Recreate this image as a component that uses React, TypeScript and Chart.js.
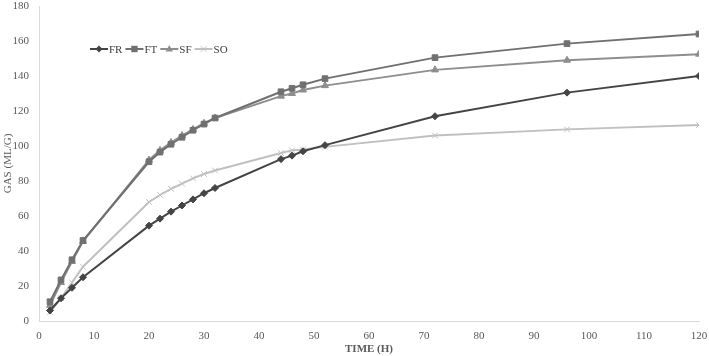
import React, { useEffect, useRef } from "react";
import { Chart, registerables } from "chart.js";

Chart.register(...registerables);

const hours = [2, 4, 6, 8, 20, 22, 24, 26, 28, 30, 32, 44, 46, 48, 52, 72, 96, 120];
const FR = [6, 13, 19, 25, 54.5, 58.5, 62.5, 66, 69.5, 73, 76, 92.5, 94.5, 97, 100.5, 117, 130.5, 140];
const FT = [11, 23.5, 35, 46, 91, 96.5, 101, 105, 109, 112.5, 116, 131, 133, 135, 138.5, 150.5, 158.5, 164];
const SF = [9, 22, 34, 45.5, 92, 97.5, 102, 106, 109.5, 113, 116, 128.5, 130, 132, 134.5, 143.5, 149, 152.5];
const SO = [5, 13, 22, 31, 68, 72, 75.5, 78.5, 81.5, 84, 86, 96, 97.5, 98, 99.5, 106, 109.5, 112];
const seriesNames = ["FR", "FT", "SF", "SO"];
const xTitle = "TIME (H)";
const yTitle = "GAS (ML/G)";

const FONT = "'Liberation Serif', 'Times New Roman', serif";

function drawMarker(ctx: any, style: string, r: number, x: number, y: number, color: string) {
  ctx.save();
  ctx.fillStyle = color;
  ctx.strokeStyle = color;
  ctx.lineWidth = 1;
  ctx.beginPath();
  if (style === "rectRot") {
    ctx.moveTo(x, y - r);
    ctx.lineTo(x + r, y);
    ctx.lineTo(x, y + r);
    ctx.lineTo(x - r, y);
    ctx.closePath();
    ctx.fill();
  } else if (style === "rect") {
    ctx.rect(x - r * 0.8, y - r * 0.8, r * 1.6, r * 1.6);
    ctx.fill();
  } else if (style === "triangle") {
    ctx.moveTo(x, y - r);
    ctx.lineTo(x + r * 0.9, y + r * 0.6);
    ctx.lineTo(x - r * 0.9, y + r * 0.6);
    ctx.closePath();
    ctx.fill();
  } else {
    const d = r * 0.7;
    ctx.moveTo(x - d, y - d);
    ctx.lineTo(x + d, y + d);
    ctx.moveTo(x + d, y - d);
    ctx.lineTo(x - d, y + d);
    ctx.stroke();
  }
  ctx.restore();
}

const legendPlugin = {
  id: "insideLegend",
  afterDraw(chart: any) {
    const ctx = chart.ctx;
    const y = 49;
    let x = 90;
    ctx.save();
    ctx.font = `11px ${FONT}`;
    ctx.textBaseline = "middle";
    chart.data.datasets.forEach((ds: any) => {
      ctx.strokeStyle = ds.borderColor;
      ctx.lineWidth = 2;
      ctx.beginPath();
      ctx.moveTo(x, y);
      ctx.lineTo(x + 18, y);
      ctx.stroke();
      drawMarker(ctx, ds.pointStyle, ds.pointRadius, x + 9, y, ds.borderColor);
      ctx.fillStyle = "#404040";
      ctx.fillText(ds.label, x + 19, y + 1);
      x += 19 + ctx.measureText(ds.label).width + 3;
    });
    ctx.restore();
  },
};

export default function App() {
  const ref = useRef<HTMLCanvasElement>(null);
  useEffect(() => {
    const mk = (label: string, data: number[], color: string, style: string, r: number) => ({
      label,
      data: hours.map((h, i) => ({ x: h, y: data[i] })),
      borderColor: color,
      backgroundColor: color,
      pointBackgroundColor: color,
      pointBorderColor: color,
      pointStyle: style,
      pointRadius: r,
      pointBorderWidth: 1,
      borderWidth: 2,
      tension: 0,
    });
    const chart = new Chart(ref.current!, {
      type: "line",
      data: {
        datasets: [
          mk(seriesNames[0], FR, "#444444", "rectRot", 3.5),
          mk(seriesNames[1], FT, "#707070", "rect", 4),
          mk(seriesNames[2], SF, "#8e8e8e", "triangle", 4),
          mk(seriesNames[3], SO, "#c0c0c0", "crossRot", 4),
        ],
      },
      options: {
        animation: false,
        responsive: false,
        maintainAspectRatio: false,
        layout: { padding: { top: 0, right: 10, left: 0, bottom: 0 } },
        plugins: { legend: { display: false }, tooltip: { enabled: false } },
        scales: {
          x: {
            type: "linear",
            min: 0,
            max: 120,
            ticks: { stepSize: 10, color: "#595959", font: { family: FONT, size: 11 }, padding: 9, maxRotation: 0 },
            grid: { display: false, drawTicks: false },
            border: { color: "#d9d9d9", width: 1 },
            title: { display: true, text: xTitle, color: "#595959", font: { family: FONT, size: 11, weight: "bold" }, padding: { top: 0, bottom: 0 } },
            afterFit: (axis: any) => { axis.height = 35; axis.paddingRight = 2; },
          },
          y: {
            min: 0,
            max: 180,
            ticks: { stepSize: 20, color: "#595959", font: { family: FONT, size: 11 }, padding: 10 },
            grid: { display: false, drawTicks: false },
            border: { color: "#d9d9d9", width: 1 },
            title: { display: true, text: yTitle, color: "#595959", font: { family: FONT, size: 11 }, padding: { top: 2, bottom: 0 } },
            afterFit: (axis: any) => { axis.width = 39; axis.paddingTop = 6; axis.paddingBottom = 0; },
          },
        },
      },
      plugins: [legendPlugin],
    } as any);
    return () => chart.destroy();
  }, []);
  return (
    <div style={{ position: "absolute", left: 0, top: 0, width: 709, height: 356, background: "#fff" }}>
      <canvas ref={ref} width={709} height={356} />
    </div>
  );
}
